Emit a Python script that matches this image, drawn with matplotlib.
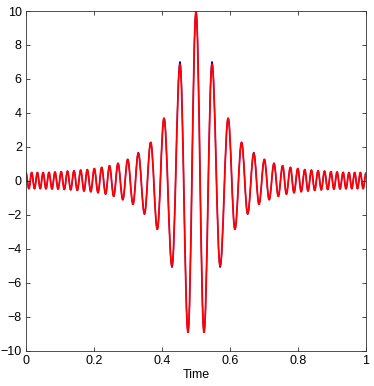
import numpy as np
import matplotlib
matplotlib.use("Agg")
import matplotlib.pyplot as plt
from matplotlib.path import Path
from matplotlib.patches import PathPatch

# Extrema (time, value); blue = original, red = overlay
peak_t = [0.000, 0.0168, 0.0335, 0.0503, 0.0676, 0.0853, 0.1035, 0.1221, 0.1412,
          0.1609, 0.1803, 0.2009, 0.2226, 0.2456, 0.2706, 0.2991, 0.3303, 0.3668,
          0.4059, 0.4529, 0.5000,
          0.5471, 0.5945, 0.6340, 0.6700, 0.7010, 0.7294, 0.7548, 0.7776, 0.7994,
          0.8200, 0.8394, 0.8590, 0.8780, 0.8968, 0.9150, 0.9327, 0.9500, 0.9667,
          0.9834, 1.000]
peak_red = [0.47, 0.50, 0.50, 0.50, 0.51, 0.53, 0.55, 0.58, 0.60, 0.64, 0.67, 0.73,
            0.80, 0.90, 1.04, 1.27, 1.63, 2.27, 3.69, 6.85, 9.95,
            6.85, 3.69, 2.27, 1.63, 1.27, 1.04, 0.90, 0.80, 0.73, 0.67, 0.64, 0.60,
            0.58, 0.55, 0.53, 0.51, 0.50, 0.50, 0.50, 0.47]
peak_blue = [0.47, 0.50, 0.50, 0.50, 0.51, 0.53, 0.55, 0.58, 0.60, 0.64, 0.67, 0.73,
             0.80, 0.90, 1.04, 1.27, 1.68, 2.27, 3.69, 7.02, 9.95,
             7.02, 3.69, 2.27, 1.68, 1.27, 1.04, 0.90, 0.80, 0.73, 0.67, 0.64, 0.60,
             0.58, 0.55, 0.53, 0.51, 0.50, 0.50, 0.50, 0.47]

trough_t = [0.0085, 0.0250, 0.0418, 0.0588, 0.0765, 0.0944, 0.1126, 0.1315, 0.1509,
            0.1706, 0.1906, 0.2118, 0.2341, 0.2579, 0.2847, 0.3147, 0.3485, 0.3862,
            0.4294, 0.4765,
            0.5235, 0.5710, 0.6145, 0.6520, 0.6853, 0.7153, 0.7421, 0.7659, 0.7882,
            0.8094, 0.8294, 0.8491, 0.8685, 0.8874, 0.9056, 0.9235, 0.9412, 0.9582,
            0.9750, 0.9915]
trough_red = [-0.45, -0.45, -0.45, -0.46, -0.47, -0.48, -0.50, -0.52, -0.55, -0.59,
              -0.63, -0.69, -0.77, -0.90, -1.10, -1.37, -1.92, -2.84, -5.00, -8.90,
              -8.90, -5.00, -2.84, -1.92, -1.37, -1.10, -0.90, -0.77, -0.69, -0.63,
              -0.59, -0.55, -0.52, -0.50, -0.48, -0.47, -0.46, -0.45, -0.45, -0.45]
trough_blue = [-0.45, -0.45, -0.45, -0.46, -0.47, -0.48, -0.50, -0.52, -0.55, -0.59,
               -0.63, -0.69, -0.77, -0.90, -1.10, -1.37, -1.96, -2.84, -5.08, -8.90,
               -8.90, -5.08, -2.84, -1.96, -1.37, -1.10, -0.90, -0.77, -0.69, -0.63,
               -0.59, -0.55, -0.52, -0.50, -0.48, -0.47, -0.46, -0.45, -0.45, -0.45]

t = np.array(peak_t + trough_t)
order = np.argsort(t)
t = t[order]
y_red = np.array(peak_red + trough_red)[order]
y_blue = np.array(peak_blue + trough_blue)[order]


def wave_path(x, y, k=0.36):
    # cubic Bezier between neighbouring extrema, flat tangent at each extremum
    verts = [(x[0], y[0])]
    codes = [Path.MOVETO]
    for i in range(len(x) - 1):
        w = x[i + 1] - x[i]
        verts += [(x[i] + k * w, y[i]), (x[i + 1] - k * w, y[i + 1]), (x[i + 1], y[i + 1])]
        codes += [Path.CURVE4] * 3
    return Path(verts, codes)


plt.rcParams.update({"font.family": ["Liberation Sans", "DejaVu Sans"], "font.size": 9})
fig = plt.figure(figsize=(3.74, 3.86), dpi=100)
ax = fig.add_axes([0.0695, 0.0907, 0.9091, 0.8808])
ax.add_patch(PathPatch(wave_path(t, y_blue), facecolor="none", edgecolor="#0000ff",
                       linewidth=0.9, capstyle="round", joinstyle="round"))
ax.add_patch(PathPatch(wave_path(t, y_red), facecolor="none", edgecolor="#ff0000",
                       linewidth=1.3, capstyle="round", joinstyle="round"))
ax.set_xlim(0, 1)
ax.set_ylim(-10, 10)
ax.set_xticks([0, 0.2, 0.4, 0.6, 0.8, 1])
ax.set_xticklabels(["0", "0.2", "0.4", "0.6", "0.8", "1"])
ax.set_yticks(range(-10, 11, 2))
ax.tick_params(direction="in", top=True, right=True, length=3, width=0.5, pad=3)
for s in ax.spines.values():
    s.set_linewidth(0.6)
    s.set_color("#333333")
ax.set_xlabel("Time", labelpad=1)
fig.savefig("out.png", dpi=100)
